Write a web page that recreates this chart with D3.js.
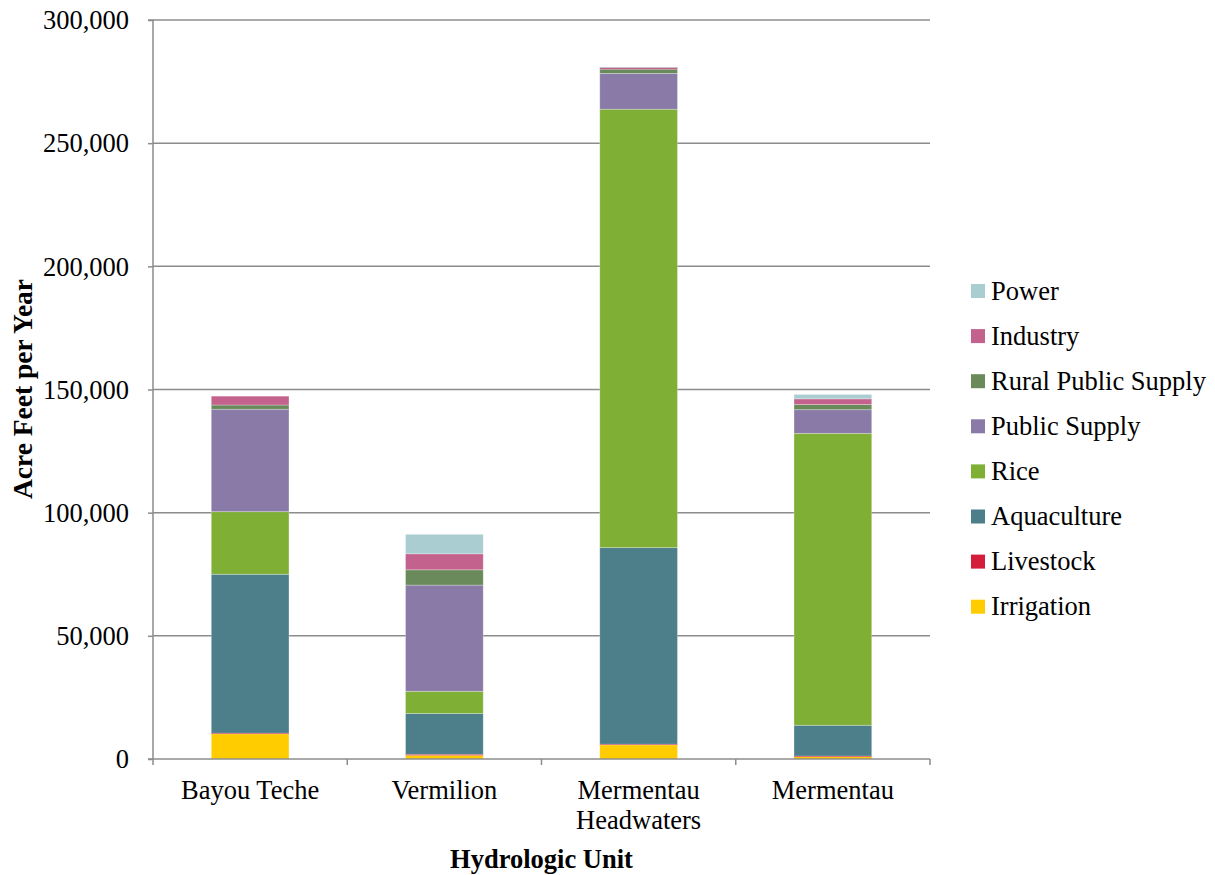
<!DOCTYPE html>
<html><head><meta charset="utf-8">
<script src="https://cdn.jsdelivr.net/npm/d3@7"></script>
<style>body{margin:0;background:#fff;} text{font-family:"Liberation Serif","Times New Roman",serif;fill:#000;}</style>
</head><body><svg id="c" width="1215" height="875"></svg>
<script>
const categories = [["Bayou Teche"],["Vermilion"],["Mermentau","Headwaters"],["Mermentau"]];
const seriesNames = ["Irrigation","Livestock","Aquaculture","Rice","Public Supply","Rural Public Supply","Industry","Power"];
const seriesColors = ["#ffcc00","#d41c3c","#4c7f8a","#80af36","#8a7aa8","#6a8a5b","#c3628c","#aacdd2"];
const irrigation = [10200, 1500, 5700, 900];
const livestock = [300, 400, 300, 300];
const aquaculture = [64500, 16600, 79800, 12500];
const rice = [25400, 9000, 178000, 118500];
const publicSupply = [41600, 43100, 14500, 9600];
const ruralPublicSupply = [1700, 6200, 1700, 2100];
const industry = [3600, 6500, 700, 2300];
const power = [0, 7900, 200, 1800];
const yTicks = [0, 50000, 100000, 150000, 200000, 250000, 300000];

const seriesVals = [irrigation, livestock, aquaculture, rice, publicSupply, ruralPublicSupply, industry, power];
const rows = categories.map((c,i)=>{const r={key:i}; seriesNames.forEach((s,j)=>r[s]=seriesVals[j][i]); return r;});

const FS = "26.5px";
const svg = d3.select("#c");
const L=153, R=930, T=20, B=759;
const x = d3.scaleBand().domain(d3.range(categories.length)).range([L,R]).padding(0);
const y = d3.scaleLinear().domain([0,300000]).range([B,T]);

// gridlines
svg.append("g").selectAll("line").data(yTicks.slice(1)).join("line")
  .attr("x1",L).attr("x2",R).attr("y1",d=>y(d)).attr("y2",d=>y(d))
  .attr("stroke","#8c8c8c").attr("stroke-width",1.5);

const stack = d3.stack().keys(seriesNames)(rows);
const bw = x.bandwidth()*0.4;
svg.append("g").selectAll("g").data(stack).join("g")
  .attr("fill",(d,i)=>seriesColors[i])
  .selectAll("rect").data(d=>d).join("rect")
  .attr("x",(d,i)=>x(i)+x.bandwidth()/2-bw/2)
  .attr("width",bw)
  .attr("y",d=>y(d[1]))
  .attr("height",d=>Math.max(0,y(d[0])-y(d[1])))
  .attr("stroke",d=>(y(d[0])-y(d[1]))>3?"#ffffff":"none").attr("stroke-opacity",0.35).attr("stroke-width",0.8);

// y axis
const yAxis = d3.axisLeft(y).tickValues(yTicks).tickSize(5).tickPadding(19).tickFormat(d3.format(","));
const ya = svg.append("g").attr("transform",`translate(${L},0)`).call(yAxis);
ya.select(".domain").attr("stroke","#8c8c8c").attr("stroke-width",1.5).attr("d",`M-5,${T}H0V${B}H-5`);
ya.selectAll(".tick line").attr("stroke","#8c8c8c").attr("stroke-width",1.5);
ya.selectAll(".tick text").style("font-size",FS).style("font-family","Liberation Serif").attr("dy","0.33em");

// x axis
svg.append("line").attr("x1",L).attr("x2",R).attr("y1",B).attr("y2",B).attr("stroke","#8c8c8c").attr("stroke-width",1.5);
const bounds = d3.range(categories.length+1).map(i=> i<categories.length ? x(i) : R);
svg.append("g").selectAll("line").data(bounds).join("line")
  .attr("x1",d=>d).attr("x2",d=>d).attr("y1",B).attr("y2",B+6)
  .attr("stroke","#8c8c8c").attr("stroke-width",1.5);
const xl = svg.append("g").selectAll("text").data(categories).join("text")
  .attr("x",(d,i)=>x(i)+x.bandwidth()/2).attr("y",799)
  .attr("text-anchor","middle").style("font-size",FS);
xl.selectAll("tspan").data(d=>d).join("tspan")
  .attr("x",function(){return this.parentNode.getAttribute("x");})
  .attr("dy",(d,i)=>i===0?0:30).text(d=>d);

// axis titles
svg.append("text").attr("x",(L+R)/2).attr("y",868).attr("text-anchor","middle")
  .style("font-size",FS).style("font-weight","bold").text("Hydrologic Unit");
svg.append("text").attr("transform","translate(32,389) rotate(-90)").attr("text-anchor","middle")
  .style("font-size","27.5px").style("font-weight","bold").text("Acre Feet per Year");

// legend
const legendOrder = seriesNames.map((s,i)=>i).reverse();
const lg = svg.append("g").selectAll("g").data(legendOrder).join("g")
  .attr("transform",(d,k)=>`translate(971,${291+k*45.1})`);
lg.append("rect").attr("x",0).attr("y",-7).attr("width",14).attr("height",14).attr("fill",d=>seriesColors[d]);
lg.append("text").attr("x",20).attr("y",0).attr("dy","0.33em").style("font-size",FS).text(d=>seriesNames[d]);
</script></body></html>
